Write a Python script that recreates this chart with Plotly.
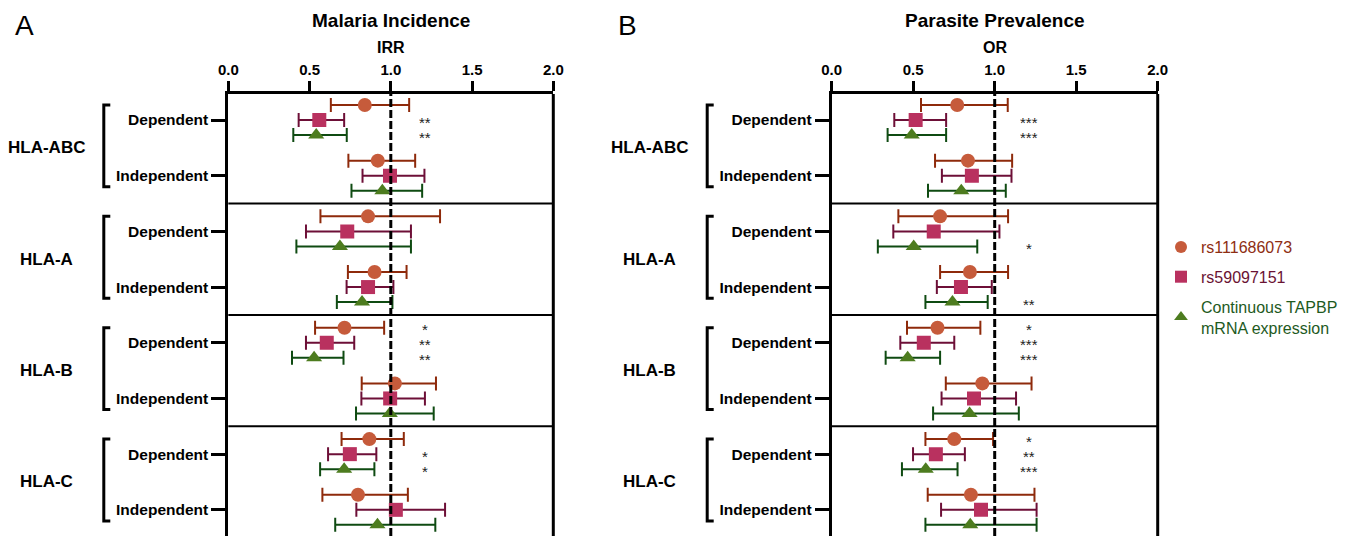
import plotly.graph_objects as go

# ---------------- data ----------------
groups = ["HLA-ABC", "HLA-A", "HLA-B", "HLA-C"]
row_types = ["Dependent", "Independent"]
series_names = ["rs111686073", "rs59097151", "Continuous TAPBP<br>mRNA expression"]
x_ticks = [0.0, 0.5, 1.0, 1.5, 2.0]
x_tick_text = ["0.0", "0.5", "1.0", "1.5", "2.0"]

# Panel A: Malaria incidence (IRR); order: ABC dep, ABC ind, A dep, A ind, B dep, B ind, C dep, C ind
irr_rs1_est = [0.84, 0.92, 0.86, 0.90, 0.715, 1.025, 0.868, 0.798]
irr_rs1_lo = [0.631, 0.739, 0.567, 0.736, 0.534, 0.821, 0.697, 0.579]
irr_rs1_hi = [1.113, 1.15, 1.303, 1.097, 0.959, 1.278, 1.08, 1.105]
irr_rs5_est = [0.56, 0.995, 0.732, 0.86, 0.606, 0.996, 0.748, 1.031]
irr_rs5_lo = [0.433, 0.826, 0.478, 0.728, 0.478, 0.819, 0.614, 0.788]
irr_rs5_hi = [0.713, 1.207, 1.124, 1.016, 0.775, 1.21, 0.911, 1.334]
irr_tap_est = [0.541, 0.948, 0.687, 0.823, 0.528, 0.994, 0.713, 0.918]
irr_tap_lo = [0.40, 0.758, 0.419, 0.668, 0.392, 0.786, 0.565, 0.658]
irr_tap_hi = [0.729, 1.193, 1.124, 1.01, 0.709, 1.264, 0.899, 1.274]
irr_rs1_sig = ["", "", "", "", "*", "", "", ""]
irr_rs5_sig = ["**", "", "", "", "**", "", "*", ""]
irr_tap_sig = ["**", "", "", "", "**", "", "*", ""]

# Panel B: Parasite prevalence (OR)
or_rs1_est = [0.77, 0.836, 0.665, 0.848, 0.649, 0.924, 0.752, 0.854]
or_rs1_lo = [0.548, 0.634, 0.409, 0.665, 0.462, 0.70, 0.575, 0.589]
or_rs1_hi = [1.08, 1.107, 1.082, 1.082, 0.912, 1.226, 0.99, 1.244]
or_rs5_est = [0.515, 0.86, 0.626, 0.793, 0.565, 0.873, 0.639, 0.916]
or_rs5_lo = [0.384, 0.676, 0.378, 0.645, 0.421, 0.674, 0.499, 0.671]
or_rs5_hi = [0.702, 1.103, 1.029, 0.982, 0.752, 1.131, 0.817, 1.257]
or_tap_est = [0.491, 0.795, 0.503, 0.741, 0.466, 0.846, 0.577, 0.85]
or_tap_lo = [0.343, 0.591, 0.283, 0.575, 0.331, 0.622, 0.431, 0.575]
or_tap_hi = [0.702, 1.068, 0.893, 0.957, 0.665, 1.148, 0.772, 1.257]
or_rs1_sig = ["", "", "", "", "*", "", "*", ""]
or_rs5_sig = ["***", "", "", "", "***", "", "**", ""]
or_tap_sig = ["***", "", "*", "**", "***", "", "***", ""]

# ---------------- styles ----------------
FONT = "Arial, Liberation Sans, Helvetica, sans-serif"
W, H = 1358, 536
MT = 94
PH = H - MT
marker_cols = ["#C65B3B", "#B9315F", "#4D7C1F"]
bar_cols = ["#8E2A0B", "#6D0F37", "#0F4B12"]
legend_cols = ["#8E2E12", "#6A1233", "#1E5A1E"]
symbols = ["circle", "square", "triangle-up"]
sizes = [14, 14, 14]
offsets = [-0.27, 0.0, 0.27]
STAR_X = 1.21

dom_a = [228.3 / W, 553.3 / W]
dom_b = [831.7 / W, 1157.7 / W]
y_range = [7.47, -0.467]

row_pos = list(range(len(groups) * len(row_types)))
row_labels = [t for g in groups for t in row_types]

fig = go.Figure()

panels = [
    ("x", "y", [(irr_rs1_est, irr_rs1_lo, irr_rs1_hi, irr_rs1_sig),
                (irr_rs5_est, irr_rs5_lo, irr_rs5_hi, irr_rs5_sig),
                (irr_tap_est, irr_tap_lo, irr_tap_hi, irr_tap_sig)]),
    ("x2", "y2", [(or_rs1_est, or_rs1_lo, or_rs1_hi, or_rs1_sig),
                  (or_rs5_est, or_rs5_lo, or_rs5_hi, or_rs5_sig),
                  (or_tap_est, or_tap_lo, or_tap_hi, or_tap_sig)]),
]

annotations = []
for pi, (xa, ya, series) in enumerate(panels):
    for si, (est, lo, hi, sig) in enumerate(series):
        ys = [p + offsets[si] for p in row_pos]
        fig.add_trace(go.Scatter(
            x=est, y=ys, xaxis=xa, yaxis=ya, mode="markers",
            name="<span style='color:%s'>%s</span>" % (legend_cols[si], series_names[si]),
            showlegend=(pi == 0), legendrank=si, legendgroup="s%d" % si,
            marker=dict(symbol=symbols[si], size=sizes[si], color=marker_cols[si],
                        line=dict(width=0)),
            error_x=dict(type="data", symmetric=False,
                         array=[h - e for h, e in zip(hi, est)],
                         arrayminus=[e - l for e, l in zip(est, lo)],
                         color=bar_cols[si], thickness=2, width=7),
            hoverinfo="x+y",
        ))
        for p, s in zip(ys, sig):
            if s:
                annotations.append(dict(x=STAR_X, y=p, xref=xa, yref=ya, text=s,
                                        showarrow=False, yshift=0, height=13,
                                        valign="top", borderpad=0,
                                        xanchor="center", yanchor="middle",
                                        font=dict(family=FONT, size=15, color="#222222")))

axis_x = dict(range=[0, 2], side="top", showline=True, linewidth=3, linecolor="black",
              ticks="outside", ticklen=10, tickwidth=3, tickcolor="black",
              tickvals=x_ticks, ticktext=x_tick_text, showgrid=False, zeroline=False,
              tickfont=dict(family=FONT, size=15, color="black", weight="bold"),
              fixedrange=True, automargin=False)
axis_y = dict(range=y_range, showline=True, linewidth=3, linecolor="black",
              ticks="outside", ticklen=14, tickwidth=3, tickcolor="black",
              tickvals=row_pos, ticktext=row_labels, showgrid=False, zeroline=False,
              tickfont=dict(family=FONT, size=15.5, color="black", weight="bold"),
              fixedrange=True, automargin=False)

fig.update_layout(
    xaxis=dict(axis_x, domain=dom_a, anchor="y"),
    yaxis=dict(axis_y, domain=[0, 1], anchor="x"),
    xaxis2=dict(axis_x, domain=dom_b, anchor="y2"),
    yaxis2=dict(axis_y, domain=[0, 1], anchor="x2"),
)

shapes = []
panel_info = [("x", "y", dom_a, "Malaria Incidence", "IRR", "A"),
              ("x2", "y2", dom_b, "Parasite Prevalence", "OR", "B")]

def ypaper(px):
    return (H - px) / PH

for xa, ya, dom, title, atitle, letter in panel_info:
    # right border
    shapes.append(dict(type="line", xref=xa + " domain", yref=ya + " domain",
                       x0=1, x1=1, y0=0, y1=1, line=dict(color="black", width=3)))
    # group separators
    for k in range(1, len(groups)):
        yy = 2 * k - 0.5
        shapes.append(dict(type="line", xref=xa + " domain", yref=ya,
                           x0=0, x1=1, y0=yy, y1=yy, line=dict(color="black", width=2)))
    # reference line
    shapes.append(dict(type="line", xref=xa, yref=ya + " domain",
                       x0=1, x1=1, y0=0, y1=1,
                       line=dict(color="black", width=3, dash="8px,3px")))
    left_px = dom[0] * W
    bx0 = (left_px - 124.5) / W
    bx1 = (left_px - 118) / W
    for gi, g in enumerate(groups):
        yt = 2 * gi - 0.27
        yb = 2 * gi + 1 + 0.2
        shapes.append(dict(type="path", xref="paper", yref=ya,
                           path="M %f,%f L %f,%f L %f,%f L %f,%f" % (bx1, yt, bx0, yt, bx0, yb, bx1, yb),
                           line=dict(color="black", width=3)))
        annotations.append(dict(x=(left_px - 182) / W, y=2 * gi + 0.5, xref="paper", yref=ya,
                                text="<b>%s</b>" % g, showarrow=False,
                                xanchor="center", yanchor="middle",
                                font=dict(family=FONT, size=17, color="black")))
    cx = (dom[0] + dom[1]) / 2
    annotations.append(dict(x=cx, y=ypaper(21), xref="paper", yref="paper", showarrow=False,
                            text="<b>%s</b>" % title, xanchor="center", yanchor="middle",
                            font=dict(family=FONT, size=19, color="black")))
    annotations.append(dict(x=cx, y=ypaper(48), xref="paper", yref="paper", showarrow=False,
                            text="<b>%s</b>" % atitle, xanchor="center", yanchor="middle",
                            font=dict(family=FONT, size=16, color="black")))
    annotations.append(dict(x=(left_px - 204) / W, y=ypaper(25), xref="paper", yref="paper",
                            showarrow=False, text=letter, xanchor="center", yanchor="middle",
                            font=dict(family=FONT, size=28, color="black")))

fig.update_layout(
    width=W, height=H, autosize=False,
    margin=dict(l=0, r=0, t=MT, b=0, pad=0, autoexpand=False),
    paper_bgcolor="white", plot_bgcolor="white",
    shapes=shapes, annotations=annotations,
    font=dict(family=FONT, color="black"),
    legend=dict(x=1161 / W, y=ypaper(230), xanchor="left", yanchor="top",
                font=dict(family=FONT, size=16), bgcolor="rgba(0,0,0,0)",
                tracegroupgap=6, itemsizing="constant"),
    showlegend=True,
)

fig.write_html("out.html", config={"displayModeBar": False},
               post_script="document.body.style.margin='0';document.body.style.padding='0';document.body.style.overflow='hidden';")
